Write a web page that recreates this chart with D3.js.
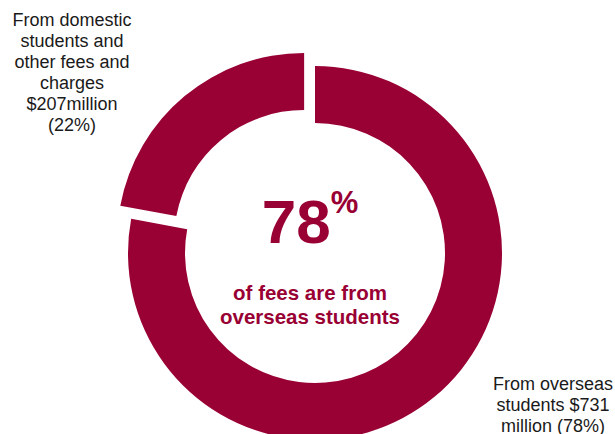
<!DOCTYPE html>
<html>
<head>
<meta charset="utf-8">
<script src="https://cdn.jsdelivr.net/npm/d3@7"></script>
<style>
  html, body { margin: 0; padding: 0; background: #fff; }
  svg { display: block; }
  text { font-family: "Liberation Sans", Arial, sans-serif; }
</style>
</head>
<body>
<svg id="chart" width="615" height="434"></svg>
<script>
// Fee income by source, $ million
const sources = ["From overseas students", "From domestic students and other fees and charges"];
const amounts = [731, 207];
const shares = [78, 22];
const labelLines = [
  ["From overseas", "students $731", "million (78%)"],
  ["From domestic", "students and", "other fees and", "charges", "$207million", "(22%)"]
];
const headline = "78";
const subline = ["of fees are from", "overseas students"];

const W = 615, H = 434;
const cx = 315, cy = 253;
const outerR = 187, innerR = 130;
const explode = 17;          // domestic slice pulled out from the centre
const crimson = "#990033";

const svg = d3.select("#chart");

const data = sources.map((s, i) => ({ source: s, amount: amounts[i], share: shares[i], lines: labelLines[i] }));

const pie = d3.pie().sort(null).value(d => d.amount);
const arc = d3.arc().innerRadius(innerR).outerRadius(outerR);

const g = svg.append("g").attr("transform", `translate(${cx},${cy})`);

g.selectAll("path.slice")
  .data(pie(data))
  .join("path")
  .attr("class", "slice")
  .attr("fill", crimson)
  .attr("d", arc)
  .attr("transform", (d, i) => {
    if (i === 0) return null;
    const a = (d.startAngle + d.endAngle) / 2;
    return `translate(${Math.sin(a) * explode},${-Math.cos(a) * explode})`;
  });

// Centre headline: big percentage with raised % sign
const big = svg.append("text")
  .attr("x", 310).attr("y", 243)
  .attr("text-anchor", "middle")
  .attr("fill", crimson)
  .attr("font-weight", "bold");
big.append("tspan").attr("font-size", 62).text(headline);
big.append("tspan").attr("font-size", 31).attr("dy", -30).text("%");

svg.append("text")
  .attr("x", 310).attr("y", 300)
  .attr("text-anchor", "middle")
  .attr("fill", crimson)
  .attr("font-weight", "bold")
  .attr("font-size", 20.5)
  .selectAll("tspan")
  .data(subline)
  .join("tspan")
  .attr("x", 310)
  .attr("dy", (d, i) => i === 0 ? 0 : 24)
  .text(d => d);

// Outside labels
const labelPos = [
  { x: 553, y: 390 },
  { x: 72, y: 26 }
];
data.forEach((d, i) => {
  svg.append("text")
    .attr("x", labelPos[i].x).attr("y", labelPos[i].y)
    .attr("text-anchor", "middle")
    .attr("fill", "#1a1a1a")
    .attr("font-size", 18)
    .selectAll("tspan")
    .data(d.lines)
    .join("tspan")
    .attr("x", labelPos[i].x)
    .attr("dy", (t, j) => j === 0 ? 0 : 21)
    .text(t => t);
});
</script>
</body>
</html>
